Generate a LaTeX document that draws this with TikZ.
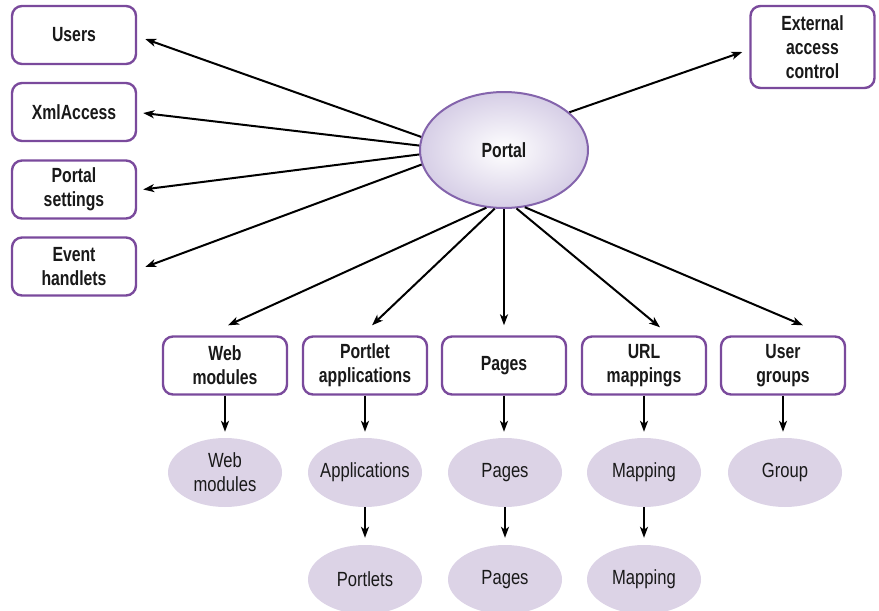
\documentclass[tikz,border=0pt]{standalone}
\usepackage{fontspec}
\setmainfont{Liberation Sans}[FakeStretch=0.81, BoldFeatures={FakeStretch=0.77}]
\usetikzlibrary{arrows.meta,shapes.geometric}
\definecolor{boxline}{HTML}{7A4A9C}
\definecolor{portalline}{HTML}{8464AC}
\definecolor{portalfill}{HTML}{D6CEE6}
\definecolor{itemfill}{HTML}{DCD3E6}
\tikzset{
  txt/.style={font=\fontsize{20.5}{24}\selectfont, align=center, text=black!90},
  boxnode/.style={txt, font=\bfseries\fontsize{20.5}{24}\selectfont, draw=boxline, line width=2.4pt,
    rounded corners=10pt, fill=white, minimum width=124pt, minimum height=58pt, inner sep=0pt},
  itemnode/.style={txt, ellipse, fill=itemfill, minimum width=114pt, minimum height=69pt, inner sep=0pt},
  portalnode/.style={txt, font=\bfseries\fontsize{20.5}{24}\selectfont, ellipse, draw=portalline, line width=2pt,
    inner color=white, outer color=portalfill, minimum width=168pt, minimum height=116pt},
  arr/.style={-{Stealth[length=11pt,width=8pt,inset=3pt]}, line width=2pt, black}
}
\begin{document}
\begin{tikzpicture}[x=1pt,y=-1pt]
\useasboundingbox (0,0) rectangle (879,611);

% central node
\node[portalnode] (portal) at (504,150) {Portal};

% left column
\node[boxnode] (users) at (74,35) {Users};
\node[boxnode] (xml) at (74,112) {XmlAccess};
\node[boxnode] (settings) at (74,189.5) {Portal\\settings};
\node[boxnode] (event) at (74,266.5) {Event\\handlets};

% top right
\node[boxnode, minimum height=82pt] (ext) at (812.5,47) {External\\access\\control};

% resource boxes
\node[boxnode] (wm) at (225,365.5) {Web\\modules};
\node[boxnode] (pa) at (365,365.5) {Portlet\\applications};
\node[boxnode] (pg) at (504,365.5) {Pages};
\node[boxnode] (url) at (644,365.5) {URL\\mappings};
\node[boxnode] (ug) at (783,365.5) {User\\groups};

% resource items
\node[itemnode] (wmA) at (225,472.5) {Web\\modules};
\node[itemnode] (paA) at (365,472.5) {\makebox[0pt]{Applications}};
\node[itemnode] (pgA) at (505,472.5) {Pages};
\node[itemnode] (urlA) at (644,472.5) {Mapping};
\node[itemnode] (ugA) at (785,472.5) {Group};
\node[itemnode] (paB) at (365,579.5) {Portlets};
\node[itemnode] (pgB) at (505,579.5) {Pages};
\node[itemnode] (urlB) at (644,579.5) {Mapping};

% connectors from the portal
\draw[arr] (portal.171) -- ([shift={(8,4)}]users.east);
\draw[arr] (portal.177) -- ([shift={(6,1)}]xml.east);
\draw[arr] (portal.183.5) -- ([shift={(6,0)}]settings.east);
\draw[arr] (portal.190) -- ([shift={(8,0.5)}]event.east);
\draw[arr] (portal.30) -- ([shift={(-7,5)}]ext.west);
\draw[arr] (portal.253) -- ([shift={(3,-10)}]wm.north);
\draw[arr] (portal.261) -- ([shift={(7,-10)}]pa.north);
\draw[arr] (portal.270) -- ([shift={(0,-10)}]pg.north);
\draw[arr] (portal.282) -- ([shift={(16,-8)}]url.north);
\draw[arr] (portal.290) -- ([shift={(20,-10)}]ug.north);

% vertical connectors
\foreach \a/\b in {wm/wmA, pa/paA, pg/pgA, url/urlA, ug/ugA}
  \draw[arr, shorten >=6pt] (\a.south) -- (\a.south |- \b.north);
\foreach \a/\b in {paA/paB, pgA/pgB, urlA/urlB}
  \draw[arr, shorten >=7pt] (\a.south) -- (\b.north);
\end{tikzpicture}
\end{document}
